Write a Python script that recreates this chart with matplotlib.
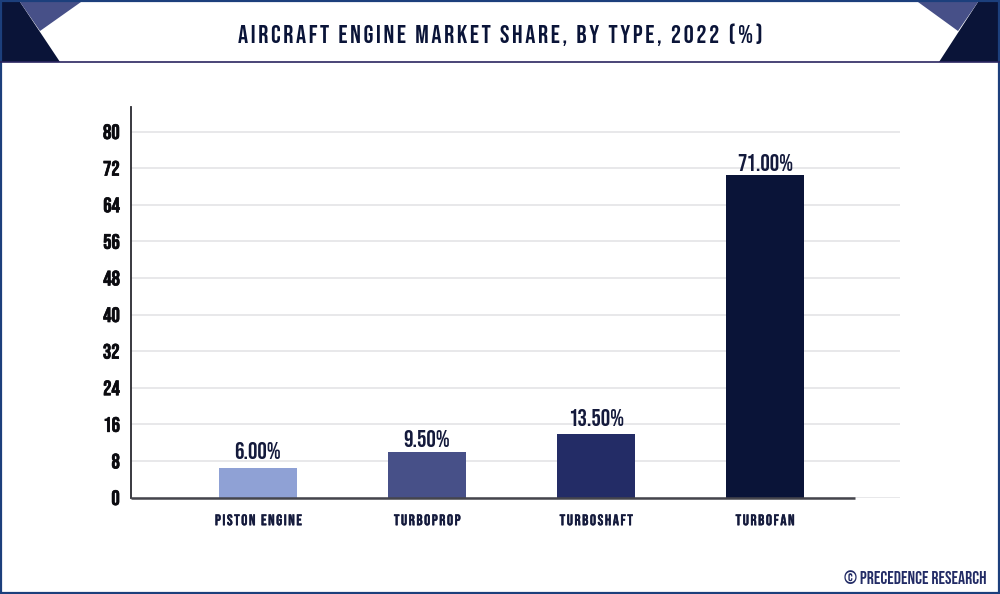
from matplotlib import pyplot as plt
from matplotlib.patches import Polygon, Rectangle
import matplotlib.patheffects as pe
import numpy as np

categories = ['PISTON ENGINE', 'TURBOPROP', 'TURBOSHAFT', 'TURBOFAN']
bar_values = [6.4, 9.9, 13.9, 70.4]
bar_labels = ['6.00%', '9.50%', '13.50%', '71.00%']
bar_colors = ['#8fa1d5', '#475088', '#232c66', '#0a1438']
y_ticks = [0, 8, 16, 24, 32, 40, 48, 56, 64, 72, 80]
label_offsets = [6.5, 4, 5.7, 3]

plt.rcParams['font.family'] = ['Bebas Neue', 'Roboto', 'DejaVu Sans']

NAVY = '#0a1438'
W, H = 1000, 594


def spaced(s):
    # no letter spacing in matplotlib, a hair space between letters does the job
    return '\u200a'.join(s)


fig = plt.figure(figsize=(10, 5.94), dpi=100)

# plot area
ax = fig.add_axes([131 / W, 1 - 497.5 / H, (900 - 131) / W, (497.5 - 107) / H])
x = np.arange(len(categories))
ax.bar(x, bar_values, 0.46, color=bar_colors, zorder=2)
ax.set_xlim(-0.751, 3.80)
ax.set_ylim(0, 80 * (497.5 - 107) / (497.5 - 131.5))
ax.set_yticks(y_ticks)
ax.set_xticks(x)
ax.set_xticklabels([spaced(c) for c in categories], fontsize=11, color='#141a3c')
for lab in ax.get_xticklabels():
    lab.set_path_effects([pe.withStroke(linewidth=0.3, foreground='#141a3c')])
ax.grid(axis='y', color='#e4e4e6', lw=1.2, zorder=0)
ax.tick_params(length=0)
ax.tick_params(axis='x', pad=12)
ax.tick_params(axis='y', labelsize=15, pad=8, labelcolor='#0b0b10')
for lab in ax.get_yticklabels():
    lab.set_path_effects([pe.withStroke(linewidth=0.5, foreground='#0b0b10')])
for s in ['top', 'right', 'bottom']:
    ax.spines[s].set_visible(False)
ax.spines['left'].set_color('#2a2a30')
ax.spines['left'].set_linewidth(1.3)

for xi, v, lab, off in zip(x, bar_values, bar_labels, label_offsets):
    ax.annotate(lab, (xi, v), xytext=(0, off), textcoords='offset points', ha='center', va='bottom',
                fontsize=17, color='#141a3c')

# overlay in pixel coordinates for the frame and header
ov = fig.add_axes([0, 0, 1, 1], facecolor='none')
ov.set_xlim(0, W)
ov.set_ylim(H, 0)
ov.axis('off')

ov.plot([131, 855], [497.5, 497.5], color='#45454c', lw=1.8, solid_capstyle='butt')
ov.add_patch(Polygon([(2, 2), (20, 2), (60, 62), (2, 62)], color=NAVY, lw=0))
ov.add_patch(Polygon([(20, 2), (81, 2), (40, 31)], color='#475088', lw=0))
ov.add_patch(Polygon([(998, 2), (978, 2), (939, 62), (998, 62)], color=NAVY, lw=0))
ov.add_patch(Polygon([(918, 2), (978, 2), (958, 31)], color='#475088', lw=0))
ov.plot([0, W], [62, 62], color='#2a2560', lw=1.2)
ov.add_patch(Rectangle((0.8, 0.8), W - 1.6, H - 1.6, fill=False, ec='#1c3f7c', lw=1.6))

ov.text(500, 35, spaced('AIRCRAFT ENGINE MARKET SHARE, BY TYPE, 2022 (%)'), fontsize=18.2, color=NAVY,
        ha='center', va='center')
ov.text(987, 577.5, '© PRECEDENCE RESEARCH', fontsize=12.7, color='#232c66', ha='right', va='center')

plt.savefig('out.png', dpi=100)
plt.close()
